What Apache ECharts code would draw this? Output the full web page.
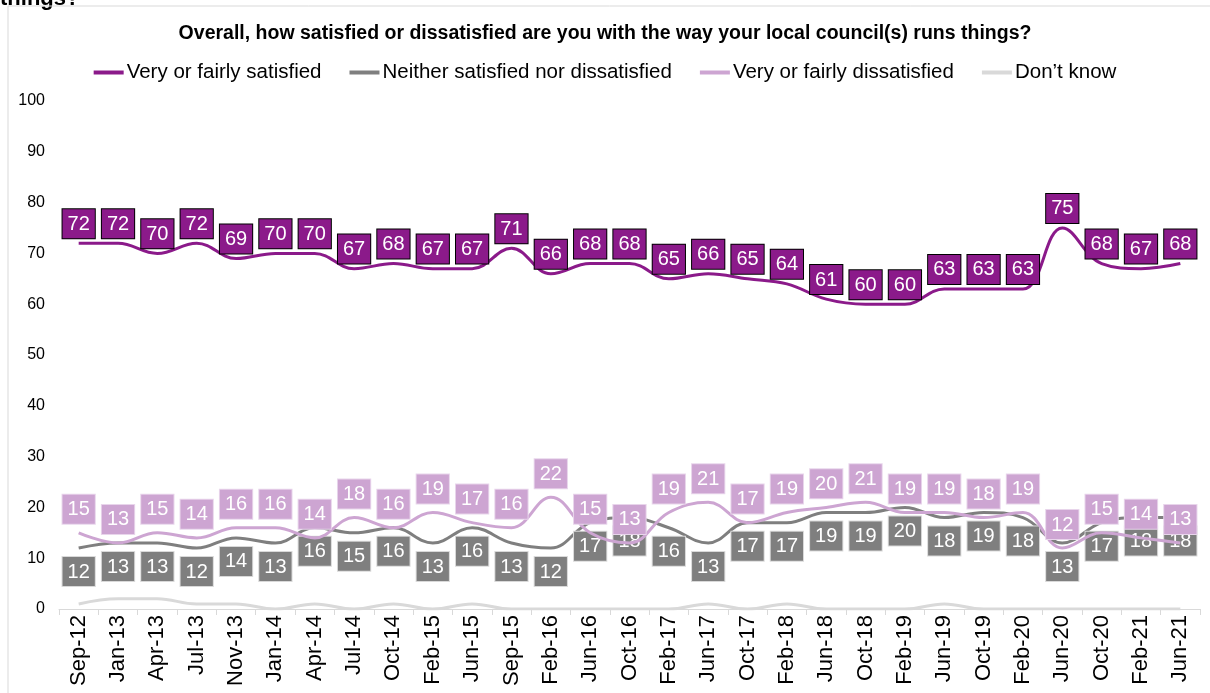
<!DOCTYPE html>
<html>
<head>
<meta charset="utf-8">
<script src="https://cdn.jsdelivr.net/npm/echarts@6/dist/echarts.min.js"></script>
<style>
  html, body { margin: 0; padding: 0; background: #fff; }
  #chart { width: 1210px; height: 693px; }
</style>
</head>
<body>
<div id="chart"></div>
<script>
const months = ["Sep-12", "Jan-13", "Apr-13", "Jul-13", "Nov-13", "Jan-14", "Apr-14", "Jul-14", "Oct-14", "Feb-15",
  "Jun-15", "Sep-15", "Feb-16", "Jun-16", "Oct-16", "Feb-17", "Jun-17", "Oct-17", "Feb-18", "Jun-18",
  "Oct-18", "Feb-19", "Jun-19", "Oct-19", "Feb-20", "Jun-20", "Oct-20", "Feb-21", "Jun-21"];

const satisfied = [72, 72, 70, 72, 69, 70, 70, 67, 68, 67, 67, 71, 66, 68, 68, 65, 66, 65, 64, 61, 60, 60, 63, 63, 63, 75, 68, 67, 68];
const neither = [12, 13, 13, 12, 14, 13, 16, 15, 16, 13, 16, 13, 12, 17, 18, 16, 13, 17, 17, 19, 19, 20, 18, 19, 18, 13, 17, 18, 18];
const dissatisfied = [15, 13, 15, 14, 16, 16, 14, 18, 16, 19, 17, 16, 22, 15, 13, 19, 21, 17, 19, 20, 21, 19, 19, 18, 19, 12, 15, 14, 13];
const dontKnow = [1, 2, 2, 1, 1, 0, 1, 0, 1, 0, 1, 0, 0, 0, 0, 0, 1, 0, 1, 0, 0, 0, 1, 0, 0, 0, 0, 0, 0];

const FONT = "Liberation Sans, Arial, sans-serif";

const chart = echarts.init(document.getElementById("chart"));

function boxLabel(pos, dist, bg, border) {
  return {
    show: true,
    position: pos,
    distance: dist,
    color: "#fff",
    fontFamily: FONT,
    fontSize: 20,
    backgroundColor: bg,
    borderColor: border,
    borderWidth: 1,
    padding: [5, 5, 4, 5],
  };
}

// markers stay invisible; they are only there so the labels render
function lineSeries(name, data, color, z, label) {
  return {
    name,
    type: "line",
    smooth: 0.4,
    data,
    showSymbol: true,
    symbol: "circle",
    symbolSize: 0.1,
    itemStyle: { color },
    lineStyle: { width: 3, color },
    label: label || { show: false },
    labelLayout: { hideOverlap: false },
    z,
  };
}

chart.setOption({
  animation: false,
  textStyle: { fontFamily: FONT },
  title: {
    text: "Overall, how satisfied or dissatisfied are you with the way your local council(s) runs things?",
    left: "center",
    top: 19,
    textStyle: { fontFamily: FONT, fontSize: 19.5, fontWeight: "bold", color: "#000" },
  },
  graphic: [
    {
      type: "text",
      left: 0,
      top: -12,
      style: { text: "things?", font: "bold 22px " + FONT, fill: "#000" },
    },
    {
      type: "rect",
      shape: { x: 8, y: 6, width: 1220, height: 720 },
      style: { fill: "none", stroke: "#d9d9d9", lineWidth: 1 },
    },
  ],
  legend: {
    top: 57,
    left: "center",
    itemWidth: 30,
    itemHeight: 4,
    itemGap: 28,
    icon: "rect",
    textStyle: { fontFamily: FONT, fontSize: 20.5, color: "#000", padding: [0, 0, 0, -2] },
    data: ["Very or fairly satisfied", "Neither satisfied nor dissatisfied", "Very or fairly dissatisfied", "Don\u2019t know"],
  },
  grid: { left: 59, right: 10, top: 101, bottom: 84 },
  xAxis: {
    type: "category",
    data: months,
    boundaryGap: true,
    axisLine: { lineStyle: { color: "#d9d9d9", width: 1 } },
    axisTick: { show: true, length: 6, lineStyle: { color: "#d9d9d9" } },
    axisLabel: { rotate: 90, fontFamily: FONT, fontSize: 22, color: "#000", margin: 6, interval: 0 },
  },
  yAxis: {
    type: "value",
    min: 0,
    max: 100,
    interval: 10,
    splitLine: { show: false },
    axisLine: { show: false },
    axisTick: { show: false },
    axisLabel: { fontFamily: FONT, fontSize: 16, color: "#000", margin: 14 },
  },
  series: [
    lineSeries("Very or fairly satisfied", satisfied, "#8B1A8A", 5, boxLabel("top", 5, "#8B1A8A", "#000")),
    lineSeries("Neither satisfied nor dissatisfied", neither, "#7F7F7F", 3, boxLabel("bottom", 9, "#7F7F7F", "#d9d9d9")),
    lineSeries("Very or fairly dissatisfied", dissatisfied, "#CDA5D2", 4, boxLabel("top", 9, "#CDA5D2", "#e8d5eb")),
    lineSeries("Don\u2019t know", dontKnow, "#D9D9D9", 2),
  ],
});
</script>
</body>
</html>
